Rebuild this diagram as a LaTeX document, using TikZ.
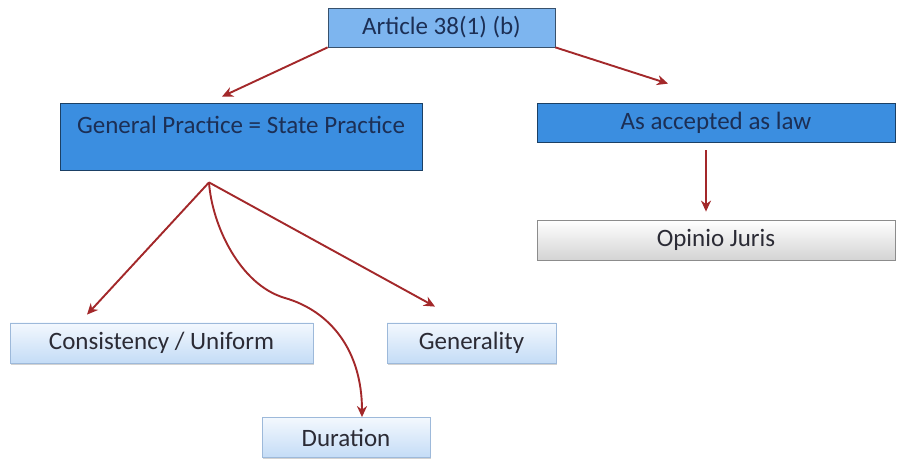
\documentclass[tikz,border=0pt]{standalone}
\usepackage{fontspec}
\setmainfont{Carlito}
\usetikzlibrary{arrows.meta,shadows,calc}
\definecolor{linkred}{HTML}{A3282A}
\definecolor{midblue}{HTML}{3B8EE0}
\definecolor{lightblue}{HTML}{7DB5EF}
\definecolor{navytext}{HTML}{1C2F55}
\definecolor{greytext}{HTML}{2B2B35}
\definecolor{paletop}{HTML}{F3F8FE}
\definecolor{palebottom}{HTML}{C4DCF6}
\definecolor{paleedge}{HTML}{9DB9DA}
\tikzset{
  box/.style={rectangle, inner sep=0pt, font=\fontsize{25}{28}\selectfont,
    drop shadow={shadow xshift=1.2pt, shadow yshift=-1.5pt, opacity=0.35}},
  topbox/.style={box, fill=lightblue, draw=lightblue!45!black, line width=0.8pt, text=navytext},
  darkbox/.style={box, fill=midblue, draw=midblue!45!black, line width=0.8pt, text=navytext},
  palebox/.style={box, top color=paletop, bottom color=palebottom, draw=paleedge, line width=0.8pt, text=greytext},
  greybox/.style={box, top color=white, bottom color=black!17, draw=black!45, line width=0.8pt, text=greytext},
  link/.style={draw=linkred, line width=1.9pt, -{Stealth[length=11pt,width=10pt,inset=3.5pt]}}
}
\begin{document}
\begin{tikzpicture}[x=1pt,y=-1pt]
\useasboundingbox (0,0) rectangle (897,462);
\fill[white] (0,0) rectangle (897,462);

% boxes
\node[topbox, minimum width=227, minimum height=39] (art) at (441.5,27.5) {Article 38(1) (b)};
\node[darkbox, minimum width=362, minimum height=67,
  label={[anchor=center, yshift=-22pt, text=navytext, font=\fontsize{25}{28}\selectfont]north:General Practice = State Practice}] (gen) at (241,136.5) {};
\node[darkbox, minimum width=358, minimum height=39] (acc) at (716,122.5) {As accepted as law};
\node[greybox, minimum width=358, minimum height=40] (op) at (716,240) {Opinio Juris};
\node[palebox, minimum width=303, minimum height=40] (cons) at (161.5,343) {Consistency / Uniform};
\node[palebox, minimum width=169, minimum height=40] (genl) at (471.5,343) {Generality};
\node[palebox, minimum width=168, minimum height=40] (dur) at (346,437.5) {Duration};

% connector points
\coordinate (sp) at ($(gen.south)+(-32,12)$);
\coordinate (bend) at (285,298);

% connectors
\draw[link] (art.south west) -- ($(gen.north)+(-19,-6)$);
\draw[link] (art.south east) -- ($(acc.north)+(-48,-19)$);
\draw[link] ($(acc.south)+(-10,8)$) -- ($(op.north)+(-10,-8)$);
\draw[link] (sp) -- ($(cons.north)+(-74.5,-8)$);
\draw[link] (sp) -- ($(genl.north)+(-36.5,-16)$);
\draw[link] (sp) .. controls +(3,43) and +(-45,-13) .. (bend)
  .. controls +(45,13) and +(0,-67) .. ($(dur.north)+(16,0)$);
\end{tikzpicture}
\end{document}
